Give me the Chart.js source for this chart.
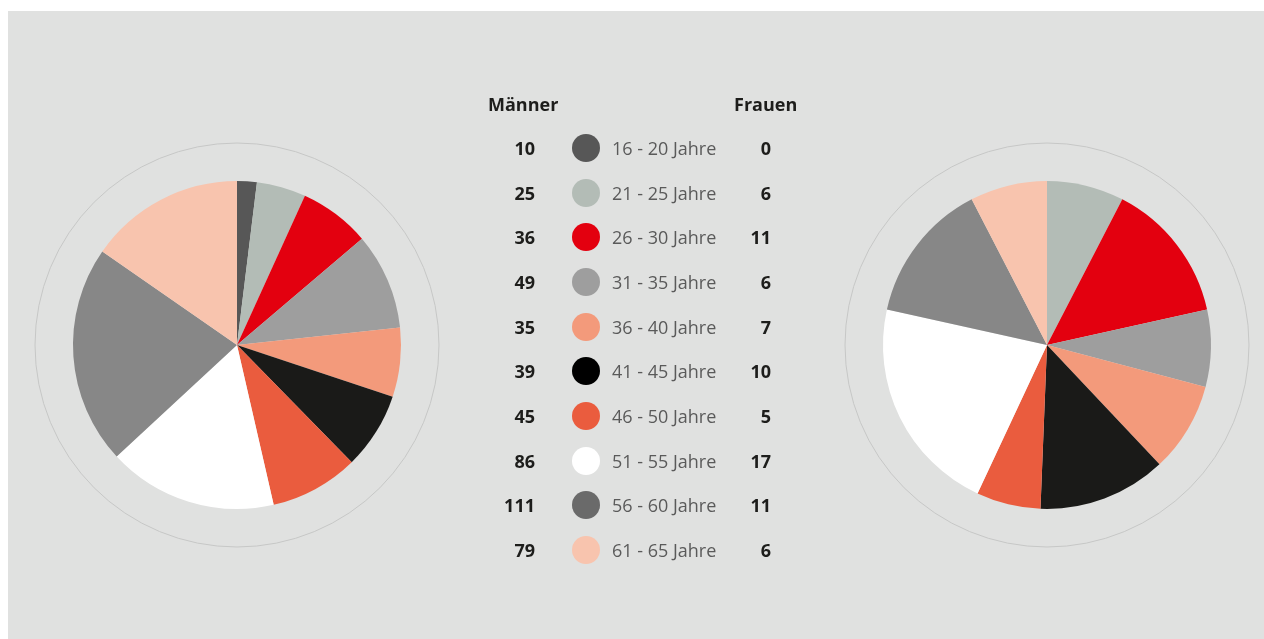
<!DOCTYPE html>
<html>
<head>
<meta charset="utf-8">
<script src="https://cdn.jsdelivr.net/npm/chart.js@4"></script>
<style>
  body { margin: 0; background: #fff; width: 1264px; height: 639px; overflow: hidden; }
  #panel { position: absolute; left: 8px; top: 11px; width: 1256px; height: 628px; background: #e0e1e0; }
  canvas { position: absolute; }
  #legend { position: absolute; left: 0; top: 0; width: 1264px; height: 639px; font-family: "Open Sans", sans-serif; }
  .t { position: absolute; white-space: nowrap; line-height: 24px; height: 24px; }
  .head { font-weight: 700; font-size: 18px; color: #1d1d1b; }
  .num { font-weight: 700; font-size: 18px; color: #1d1d1b; text-align: right; width: 60px; }
  .lab { font-size: 18px; color: #5a5a5a; font-weight: 400; }
  .dot { position: absolute; width: 28px; height: 28px; border-radius: 50%; }
</style>
</head>
<body>
<div id="panel"></div>
<canvas id="men" width="420" height="420" style="left:27px;top:135px"></canvas>
<canvas id="women" width="420" height="420" style="left:837px;top:135px"></canvas>
<div id="legend"></div>
<script>
// Data
const ageGroups = ['16 - 20 Jahre', '21 - 25 Jahre', '26 - 30 Jahre', '31 - 35 Jahre', '36 - 40 Jahre',
                   '41 - 45 Jahre', '46 - 50 Jahre', '51 - 55 Jahre', '56 - 60 Jahre', '61 - 65 Jahre'];
const maenner = [10, 25, 36, 49, 35, 39, 45, 86, 111, 79];
const frauen = [0, 6, 11, 6, 7, 10, 5, 17, 11, 6];

const sliceColors = ['#575757', '#b3bcb6', '#e3000f', '#9e9e9e', '#f39a7b',
                     '#1a1a18', '#ea5c3e', '#ffffff', '#878787', '#f8c4ae'];
const dotColors = ['#575757', '#b3bcb6', '#e3000f', '#9e9e9e', '#f39a7b',
                   '#000000', '#ea5c3e', '#ffffff', '#6a6a6a', '#f8c4ae'];

// thin ring around each pie
const ringPlugin = {
    id: 'ring',
    beforeDatasetsDraw(chart) {
        const arc = chart.getDatasetMeta(0).data[0];
        const ctx = chart.ctx;
        ctx.save();
        ctx.beginPath();
        ctx.arc(arc.x, arc.y, arc.outerRadius + 38, 0, Math.PI * 2);
        ctx.strokeStyle = '#c6c7c6';
        ctx.lineWidth = 1;
        ctx.stroke();
        ctx.restore();
    }
};

function makePie(id, values) {
    return new Chart(document.getElementById(id), {
        type: 'pie',
        data: {
            labels: ageGroups,
            datasets: [{ data: values, backgroundColor: sliceColors, borderWidth: 0 }]
        },
        options: {
            responsive: false,
            animation: false,
            layout: { padding: 46 },
            plugins: { legend: { display: false }, tooltip: { enabled: false } }
        },
        plugins: [ringPlugin]
    });
}

makePie('men', maenner);
makePie('women', frauen);

// Legend table in the middle
const legend = document.getElementById('legend');
function addText(cls, text, left, cy) {
    const el = document.createElement('div');
    el.className = 't ' + cls;
    el.textContent = text;
    el.style.left = left + 'px';
    el.style.top = (cy - 12) + 'px';
    legend.appendChild(el);
}
addText('head', 'Männer', 488, 104);
addText('head', 'Frauen', 734, 104);
ageGroups.forEach((g, i) => {
    const cy = 148 + i * 44.65;
    addText('num', maenner[i], 475, cy);
    addText('num', frauen[i], 711, cy);
    const d = document.createElement('div');
    d.className = 'dot';
    d.style.left = '572px';
    d.style.top = (cy - 14) + 'px';
    d.style.background = dotColors[i];
    legend.appendChild(d);
    addText('lab', g, 612, cy);
});
</script>
</body>
</html>
